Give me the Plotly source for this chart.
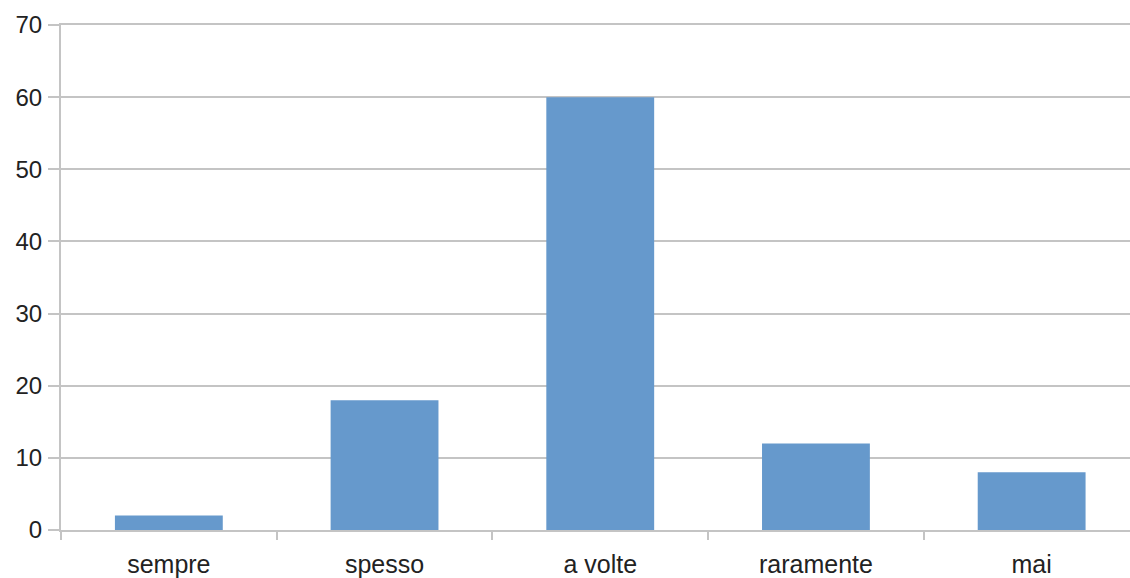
import plotly.graph_objects as go

categories = ["sempre", "spesso", "a volte", "raramente", "mai"]
values = [2, 18, 60, 12, 8]
y_ticks = [0, 10, 20, 30, 40, 50, 60, 70]

grid = "#c4c4c4"
family = "Liberation Sans, Arial, sans-serif"
y_font = dict(family=family, size=24, color="#222222")
x_font = dict(family=family, size=25, color="#222222")

fig = go.Figure(
    go.Bar(
        x=categories,
        y=values,
        marker=dict(color="#6699cc", line=dict(width=0)),
    )
)

fig.update_layout(
    width=1130,
    height=578,
    margin=dict(l=61, r=0, t=25, b=48),
    paper_bgcolor="white",
    plot_bgcolor="white",
    bargap=0.5,
    showlegend=False,
    font=y_font,
)

fig.update_yaxes(
    range=[0, 70],
    tickvals=y_ticks,
    showgrid=True,
    gridcolor=grid,
    gridwidth=1.5,
    showline=True,
    linecolor=grid,
    linewidth=2,
    ticks="outside",
    ticklen=11,
    tickcolor=grid,
    tickwidth=1.5,
    ticklabelstandoff=1,
    zeroline=False,
    tickfont=y_font,
    automargin=False,
)

fig.update_xaxes(
    type="category",
    range=[-0.5, 4.456],
    showline=True,
    mirror=True,
    linecolor=grid,
    linewidth=2,
    ticks="outside",
    tickson="boundaries",
    ticklen=8,
    tickcolor=grid,
    tickwidth=1.5,
    ticklabelstandoff=11,
    showgrid=False,
    tickfont=x_font,
    automargin=False,
)

fig.write_html("out.html")
